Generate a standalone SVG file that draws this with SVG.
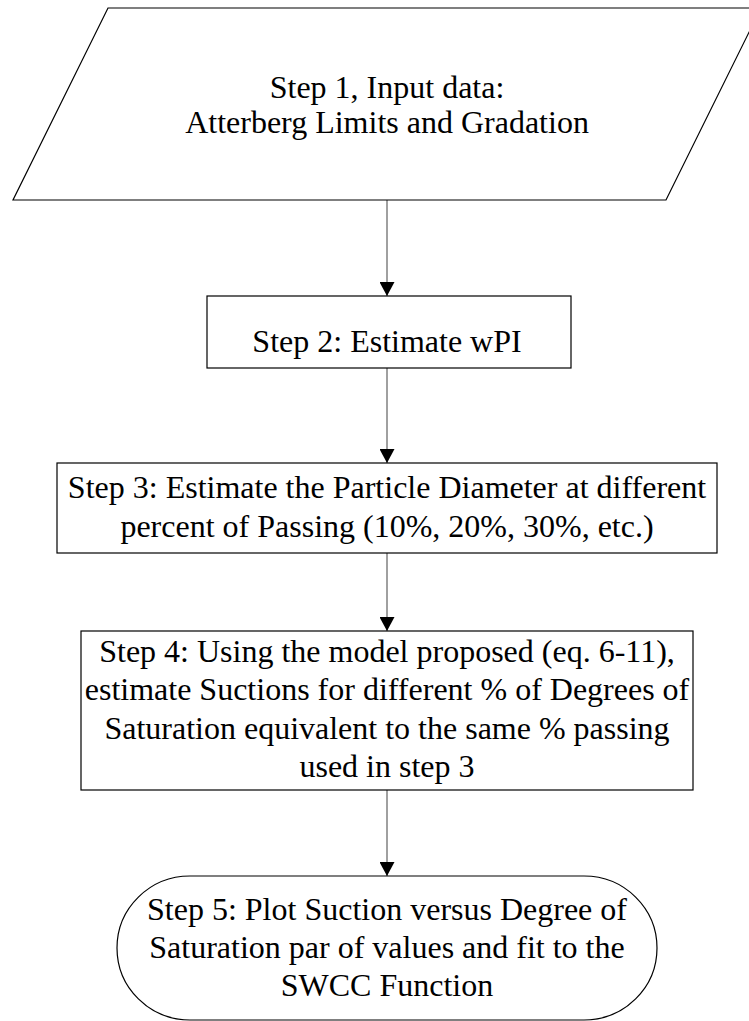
<svg xmlns="http://www.w3.org/2000/svg" width="749" height="1021" viewBox="0 0 749 1021">
<style>
.shape{fill:#fff;stroke:#000;stroke-width:1.2}
.lbl{font-family:'Liberation Serif','Times New Roman',Times,'DejaVu Serif',serif;font-size:32px;fill:#000;text-anchor:middle}
.conn{stroke:#808080;stroke-width:1.5;fill:none}
</style>
<defs>
<marker id="arr" markerUnits="userSpaceOnUse" markerWidth="15" markerHeight="15" viewBox="0 0 14 15" refX="14" refY="7.5" orient="auto">
<path d="M0,0 L14,7.5 L0,15 z" fill="#000"/>
</marker>
</defs>
<rect width="749" height="1021" fill="#fff"/>
<g id="connectors">
<line class="conn" x1="387" y1="200" x2="387" y2="296" marker-end="url(#arr)"/>
<line class="conn" x1="387" y1="368" x2="387" y2="463" marker-end="url(#arr)"/>
<line class="conn" x1="387" y1="553" x2="387" y2="631" marker-end="url(#arr)"/>
<line class="conn" x1="387" y1="790" x2="387" y2="876" marker-end="url(#arr)"/>
</g>
<g id="step1" font-family="Liberation Serif, serif">
<polygon class="shape" points="108,8 761,8 666,200 13,200"/>
<text class="lbl" x="387" y="98">Step 1, Input data:</text>
<text class="lbl" x="387" y="133">Atterberg Limits and Gradation</text>
</g>
<g id="step2">
<rect class="shape" x="207" y="296" width="364" height="72"/>
<text class="lbl" x="387" y="352">Step 2: Estimate wPI</text>
</g>
<g id="step3">
<rect class="shape" x="57" y="463" width="660" height="90"/>
<text class="lbl" x="387" y="498">Step 3: Estimate the Particle Diameter at different</text>
<text class="lbl" x="387" y="537">percent of Passing (10%, 20%, 30%, etc.)</text>
</g>
<g id="step4">
<rect class="shape" x="81" y="631" width="612" height="159"/>
<text class="lbl" x="387" y="662">Step 4: Using the model proposed (eq. 6-11),</text>
<text class="lbl" x="387" y="700">estimate Suctions for different % of Degrees of</text>
<text class="lbl" x="387" y="739">Saturation equivalent to the same % passing</text>
<text class="lbl" x="387" y="777">used in step 3</text>
</g>
<g id="step5">
<rect class="shape" x="117" y="876" width="540" height="144" rx="73" ry="72"/>
<text class="lbl" x="387" y="920">Step 5: Plot Suction versus Degree of</text>
<text class="lbl" x="387" y="958">Saturation par of values and fit to the</text>
<text class="lbl" x="387" y="996">SWCC Function</text>
</g>
</svg>
